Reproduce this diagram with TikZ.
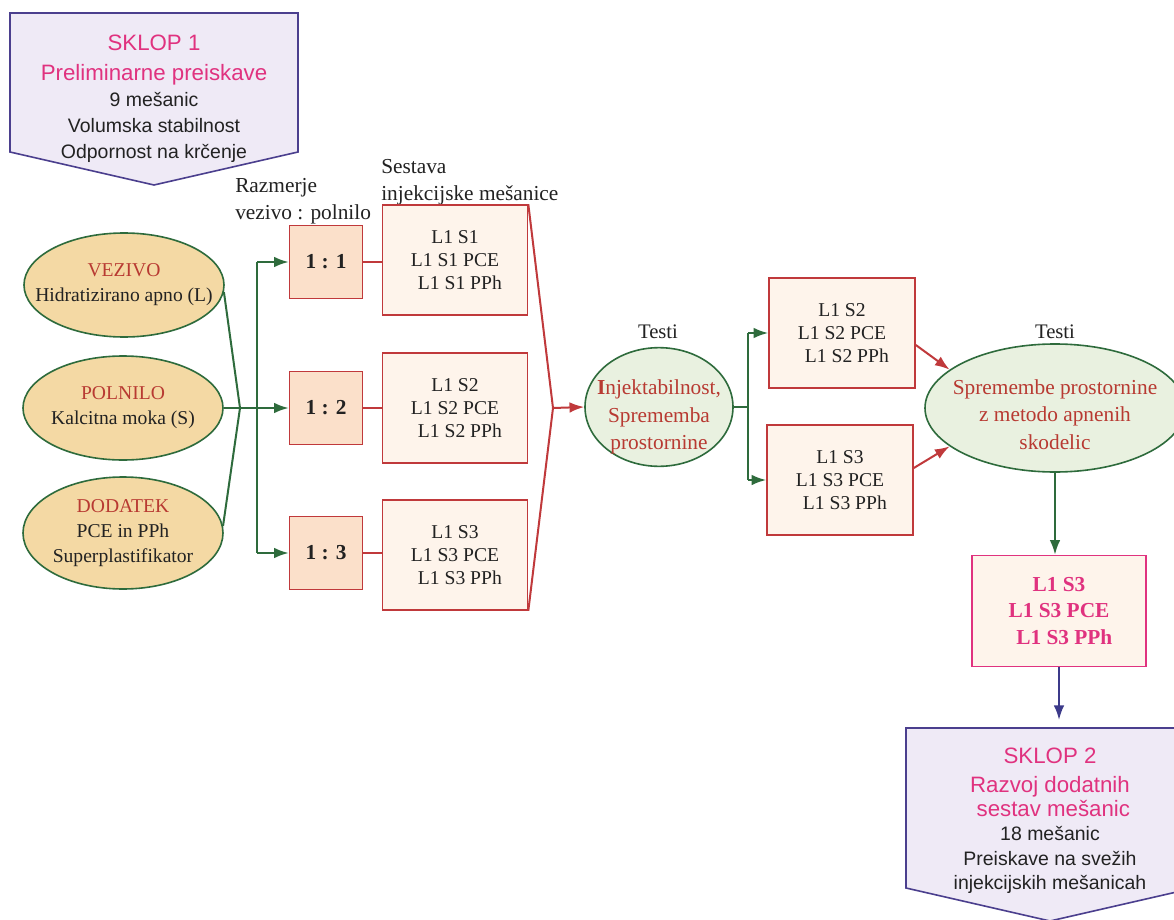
\documentclass[tikz,border=0pt]{standalone}
\usepackage{fontspec}
\setmainfont{Liberation Serif}
\setsansfont{Liberation Sans}
\usetikzlibrary{arrows.meta,shapes.geometric}
\definecolor{grn}{HTML}{2E6B3C}
\definecolor{rd}{HTML}{C0393B}
\definecolor{txtred}{HTML}{B83A32}
\definecolor{mag}{HTML}{E0327F}
\definecolor{pur}{HTML}{4B3F8E}
\definecolor{lav}{HTML}{EFEAF6}
\definecolor{tanf}{HTML}{F4D9A4}
\definecolor{peach}{HTML}{FBE0CA}
\definecolor{cream}{HTML}{FEF4EB}
\definecolor{lgreen}{HTML}{E9F1E0}
\definecolor{navy}{HTML}{3C3A8A}
\definecolor{ink}{HTML}{222222}
\tikzset{
  inell/.style={ellipse, draw=grn, fill=tanf, line width=1.2pt, minimum width=150pt, minimum height=78pt, inner sep=0pt},
  intxt/.style={inner sep=0pt, align=center, text=ink, font=\fontsize{14.7}{18.75}\selectfont},
  testell/.style={ellipse, draw=grn, fill=lgreen, line width=1.2pt, inner sep=0pt},
  testtxt/.style={inner sep=0pt, align=center, text=txtred, font=\fontsize{16}{20.6}\selectfont, yshift=-5pt},
  ratiobox/.style={rectangle, draw=rd, fill=peach, line width=1.2pt, minimum width=54.75pt, minimum height=54.75pt, inner sep=0pt, font=\fontsize{16}{20}\selectfont\bfseries, text=ink},
  mixbox/.style={rectangle, draw=rd, fill=cream, line width=1.2pt, minimum width=108.75pt, minimum height=82.5pt, inner sep=0pt, align=center, text=ink, font=\fontsize{14.7}{17.25}\selectfont},
  pinkbox/.style={rectangle, draw=mag, fill=cream, line width=1.2pt, minimum width=130.5pt, minimum height=83.25pt, inner sep=0pt, align=center, text=mag, font=\fontsize{16}{20}\selectfont\bfseries},
  lbl/.style={inner sep=0pt, text=ink, font=\fontsize{16}{20}\selectfont},
  sklop/.style={fill=lav, draw=pur, line width=1.2pt},
  garr/.style={draw=grn, line width=1.5pt, -{Latex[length=11pt,width=8pt]}},
  gline/.style={draw=grn, line width=1.5pt},
  rarr/.style={draw=rd, line width=1.5pt, -{Latex[length=11pt,width=8pt]}},
  rline/.style={draw=rd, line width=1.5pt},
  narr/.style={draw=navy, line width=1.5pt, -{Latex[length=11pt,width=8pt]}}
}
\begin{document}
\begin{tikzpicture}[x=0.75pt,y=-0.75pt]
\useasboundingbox (0,0) rectangle (1174,920);
\fill[white] (0,0) rectangle (1174,920);

% SKLOP 1
\draw[sklop] (10,13) -- (298,13) -- (298,152) -- (154,185) -- (10,152) -- cycle;
\node[inner sep=0pt, align=center, text=ink, font=\sffamily\fontsize{14.6}{19.5}\selectfont] (s1) at (154,99)
 {{\fontsize{16.7}{19.5}\selectfont\color{mag}SKLOP 1}\\[3pt]
  {\fontsize{16.7}{19.5}\selectfont\color{mag}Preliminarne preiskave}\\
  9 mešanic\\ Volumska stabilnost\\ Odpornost na krčenje};

% labels
\node[lbl, anchor=west, align=left] (lr) at (235,201) {Razmerje\\vezivo : polnilo};
\node[lbl, anchor=west, align=left] (ls) at (381,182) {Sestava\\injekcijske mešanice};

% input ellipses
\node[inell, label={[intxt]center:{{\color{txtred}VEZIVO}\\Hidratizirano apno (L)}}] (vez) at (124,285) {};
\node[inell, label={[intxt]center:{{\color{txtred}POLNILO}\\Kalcitna moka (S)}}] (pol) at (123,408) {};
\node[inell, minimum height=84pt, label={[intxt]center:{{\color{txtred}DODATEK}\\PCE in PPh\\Superplastifikator}}] (dod) at (123,533) {};

% ratio boxes
\node[ratiobox] (r1) at (326,262) {1 : 1};
\node[ratiobox] (r2) at (326,408) {1 : 2};
\node[ratiobox] (r3) at (326,553) {1 : 3};

% mixture boxes
\node[mixbox] (m1) at (455,260) {L1 S1\\L1 S1 PCE\\\hspace*{0.5em}L1 S1 PPh};
\node[mixbox] (m2) at (455,408) {L1 S2\\L1 S2 PCE\\\hspace*{0.5em}L1 S2 PPh};
\node[mixbox] (m3) at (455,555) {L1 S3\\L1 S3 PCE\\\hspace*{0.5em}L1 S3 PPh};

% tests 1
\node[testell, minimum width=111pt, minimum height=89pt, label={[testtxt, yshift=-2.5pt]center:{\textbf{I}njektabilnost,\\Sprememba\\prostornine}}] (t1) at (659,407) {};
\node[lbl, font=\fontsize{15.5}{19}\selectfont] (tl1) at (658,332) {Testi};

% right boxes
\node[mixbox, minimum width=109.5pt] (q1) at (842,333) {L1 S2\\L1 S2 PCE\\\hspace*{0.5em}L1 S2 PPh};
\node[mixbox, minimum width=109.5pt] (q2) at (840,480) {L1 S3\\L1 S3 PCE\\\hspace*{0.5em}L1 S3 PPh};

% tests 2
\node[testell, minimum width=195pt, minimum height=96pt, label={[testtxt]center:{Spremembe prostornine\\z metodo apnenih\\skodelic}}] (t2) at (1055,408) {};
\node[lbl, font=\fontsize{15.5}{19}\selectfont] (tl2) at (1055,332) {Testi};

% pink box
\node[pinkbox] (pk) at (1059,611) {L1 S3\\L1 S3 PCE\\\hspace*{0.5em}L1 S3 PPh};

% SKLOP 2
\draw[sklop] (906,728) -- (1194,728) -- (1194,888) -- (1050,921) -- (906,888) -- cycle;
\node[inner sep=0pt, align=center, text=ink, font=\sffamily\fontsize{14.6}{18.3}\selectfont] (s2) at (1050,821)
 {{\fontsize{16.7}{18.3}\selectfont\color{mag}SKLOP 2}\\[3pt]
  {\fontsize{16.7}{18.3}\selectfont\color{mag}Razvoj dodatnih}\\
  {\fontsize{16.7}{18.3}\selectfont\color{mag}\hspace*{0.3em}sestav mešanic}\\
  18 mešanic\\ Preiskave na svežih\\ injekcijskih mešanicah};
\coordinate (s2a) at (1059,720);

% connectors, left part
\coordinate (j1) at (240,408);
\coordinate (vx) at (257,408);
\draw[gline] (vez.-4) -- (j1) -- (dod.4);
\draw[garr] (pol.east) -- (r2.west);
\draw[gline] (vx |- r1.west) -- (vx |- r3.west);
\draw[garr] (vx |- r1.west) -- (r1.west);
\draw[garr] (vx |- r3.west) -- (r3.west);

\draw[rline] (r1.east) -- (r1.east -| m1.west);
\draw[rline] (r2.east) -- (m2.west);
\draw[rline] (r3.east) -- (r3.east -| m3.west);

\coordinate (j2) at (553,408);
\draw[rline] (m1.north east) -- (j2) -- (m3.south east);
\draw[rarr] (j2) -- (t1.west);

% middle
\coordinate (j3) at (748,407);
\draw[gline] (t1.east) -- (j3);
\draw[gline] (j3 |- q1.west) -- (j3 |- q2.west);
\draw[garr] (j3 |- q1.west) -- (q1.west);
\draw[garr] (j3 |- q2.west) -- (q2.west);

\draw[rarr] ([yshift=-9pt]q1.east) -- (t2.160);
\draw[rarr] ([yshift=9pt]q2.east) -- (t2.200);

\draw[garr] (t2.south) -- (t2.south |- pk.north);
\draw[narr] (pk.south) -- (s2a);
\end{tikzpicture}
\end{document}
